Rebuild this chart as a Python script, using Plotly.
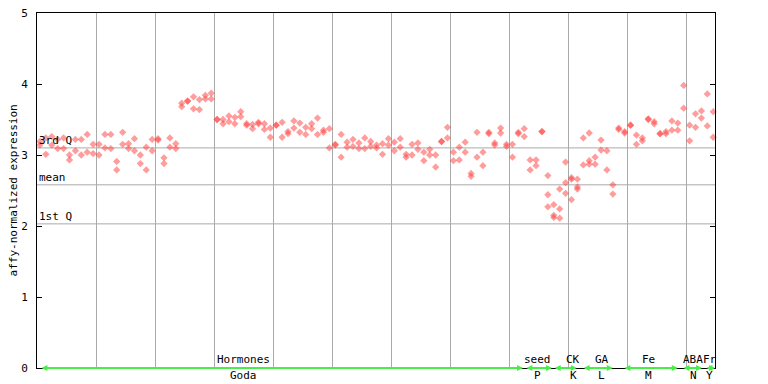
import plotly.graph_objects as go

# ---- data ----
rep1 = [3.19, 3.24, 3.26, 3.22, 3.24, 3.00, 3.22, 3.22, 3.29, 3.15,
        3.15, 3.29, 3.29, 2.91, 3.32, 3.16, 3.23, 3.00, 3.11, 3.22,
        3.23, 2.96, 3.24, 3.16, 3.73, 3.76, 3.82, 3.78, 3.84, 3.87,
        3.50, 3.50, 3.55, 3.53, 3.61, 3.44, 3.43, 3.46, 3.44, 3.38,
        3.42, 3.46, 3.33, 3.48, 3.45, 3.39, 3.44, 3.52, 3.35, 3.37,
        3.15, 3.29, 3.18, 3.22, 3.17, 3.24, 3.19, 3.14, 3.16, 3.23,
        3.18, 3.23, 3.01, 3.15, 3.17, 3.04, 3.08, 3.00, 3.19, 3.39,
        3.04, 3.11, 3.18, 2.74, 3.32, 3.04, 3.32, 3.17, 3.38, 3.15,
        3.15, 3.32, 3.37, 2.93, 2.93, 3.33, 2.71, 2.30, 2.52, 2.90,
        2.68, 2.66, 3.24, 3.31, 2.97, 3.21, 3.06, 2.58, 3.38, 3.33,
        3.42, 3.28, 3.24, 3.51, 3.47, 3.30, 3.33, 3.48, 3.45, 3.98,
        3.42, 3.58, 3.62, 3.86, 3.61]
rep2 = [3.14, 3.01, 3.14, 3.09, 3.09, 2.93, 3.06, 3.00, 3.04, 3.02,
        3.00, 3.10, 3.09, 2.79, 3.15, 3.09, 3.06, 2.88, 2.79, 3.06,
        3.21, 2.88, 3.11, 3.09, 3.68, 3.76, 3.65, 3.64, 3.79, 3.79,
        3.50, 3.44, 3.47, 3.44, 3.54, 3.42, 3.37, 3.44, 3.36, 3.25,
        3.42, 3.25, 3.30, 3.38, 3.32, 3.29, 3.37, 3.29, 3.32, 3.10,
        3.14, 2.97, 3.11, 3.12, 3.09, 3.09, 3.12, 3.10, 3.01, 3.14,
        3.06, 3.11, 2.97, 3.00, 3.08, 2.92, 3.00, 2.83, 3.19, 3.24,
        2.92, 2.93, 3.04, 2.70, 2.97, 2.85, 3.30, 3.14, 3.31, 3.12,
        2.97, 3.30, 3.26, 2.79, 2.85, 3.33, 2.44, 2.15, 2.24, 2.61,
        2.66, 2.55, 2.86, 2.92, 2.87, 3.07, 2.79, 2.45, 3.36, 3.31,
        3.42, 3.15, 3.20, 3.50, 3.44, 3.30, 3.30, 3.35, 3.35, 3.66,
        3.20, 3.39, 3.52, 3.41, 3.25]
rep3_index = [86, 87, 88, 89, 90, 91, 93]
rep3_value = [2.27, 2.12, 2.11, 2.46, 2.37, 2.52, 2.87]

q3_value = 3.10
mean_value = 2.58
q1_value = 2.03

group_top = ["Hormones", "seed", "CK", "GA", "Fe", "ABA", "Fr"]
group_bottom = ["Goda", "P", "K", "L", "M", "N", "Y"]
group_start = [0.0, 82.1, 86.9, 91.8, 98.7, 108.7, 112.6]
group_end = [81.8, 86.7, 90.9, 97.0, 108.0, 112.1, 114.3]
group_label_pos = [34.5, 84.2, 90.3, 95.1, 103.0, 110.6, 113.4]

y_ticks = [0, 1, 2, 3, 4, 5]

# ---- figure ----
MONO = "DejaVu Sans Mono"
RED = "rgba(255,60,60,0.5)"
GREEN = "#48ee48"
GRID = "#aaaaaa"

idx = list(range(len(rep1)))
xs = idx + idx + rep3_index
ys = rep1 + rep2 + rep3_value

fig = go.Figure()
fig.add_trace(go.Scatter(
    x=xs, y=ys, mode="markers",
    marker=dict(symbol="diamond", size=5.6, color=RED, line=dict(width=0)),
    showlegend=False, hoverinfo="skip", cliponaxis=False))

shapes = []
annotations = []
for val, txt in [(q3_value, "3rd Q"), (mean_value, "mean"), (q1_value, "1st Q")]:
    shapes.append(dict(type="line", xref="paper", x0=0, x1=1, yref="y", y0=val, y1=val,
                       line=dict(color=GRID, width=1), layer="below"))
    annotations.append(dict(xref="paper", x=0.0, yref="y", y=val, text=txt, showarrow=False,
                            xanchor="left", yanchor="bottom", xshift=0, yshift=-1,
                            font=dict(family=MONO, size=11, color="black")))

for s, e, top, bot, pos in zip(group_start, group_end, group_top, group_bottom, group_label_pos):
    annotations.append(dict(x=e, y=0, ax=s, ay=0, xref="x", yref="y", axref="x", ayref="y",
                            text="", showarrow=True, arrowside="end+start", arrowhead=2,
                            arrowsize=0.6, arrowwidth=2, arrowcolor=GREEN))
    annotations.append(dict(x=pos, y=0, xref="x", yref="y", text=top, showarrow=False,
                            xanchor="center", yanchor="bottom", yshift=0,
                            font=dict(family=MONO, size=11, color="black")))
    annotations.append(dict(x=pos, y=0, xref="x", yref="y", text=bot, showarrow=False,
                            xanchor="center", yanchor="top", yshift=1,
                            font=dict(family=MONO, size=11, color="black")))

annotations.append(dict(xref="paper", x=-0.034, yref="paper", y=0.5, text="affy-normalized expression",
                        textangle=-90, showarrow=False, xanchor="center", yanchor="middle",
                        font=dict(family=MONO, size=11, color="black")))

# page body has an 8px margin, so the figure is sized/offset to land the plot area in place
fig.update_layout(
    width=760, height=376,
    margin=dict(l=29, r=53, t=5, b=16, autoexpand=False),
    paper_bgcolor="white", plot_bgcolor="white",
    shapes=shapes, annotations=annotations,
    xaxis=dict(range=[-0.5, 114.3], showgrid=True, gridcolor=GRID, gridwidth=1,
               tick0=-0.5, dtick=10, showticklabels=False, ticks="", automargin=False,
               showline=True, linecolor="black", linewidth=1, mirror=True, zeroline=False),
    yaxis=dict(range=[0, 5], tickvals=y_ticks, ticks="inside", ticklen=5, tickcolor="black",
               showgrid=False, zeroline=False, showline=True, linecolor="black", linewidth=1,
               mirror="ticks", ticklabelstandoff=6, ticklabeloverflow="allow", automargin=False,
               tickfont=dict(family=MONO, size=11, color="black")),
    font=dict(family=MONO, size=11, color="black"),
)

fig.write_html("out.html")
